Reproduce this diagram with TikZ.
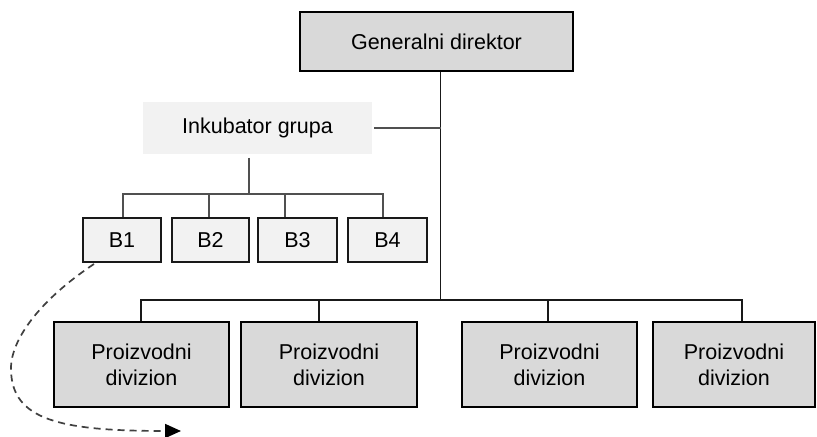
\documentclass[tikz,border=0pt]{standalone}
\usepackage{fontspec}
\setmainfont{Liberation Sans}
\usetikzlibrary{arrows.meta}
\definecolor{boxdark}{HTML}{D9D9D9}
\definecolor{boxlight}{HTML}{F2F2F2}
\definecolor{linegray}{HTML}{505050}
\begin{document}
\begin{tikzpicture}[x=1bp,y=-1bp,
  unit/.style={draw=black,line width=1.6bp,fill=boxdark,inner sep=0pt,
    font=\fontsize{21.5bp}{26bp}\selectfont,align=center},
  group/.style={fill=boxlight,inner sep=0pt,font=\fontsize{21.5bp}{26bp}\selectfont},
  bunit/.style={draw=black!90,line width=1.6bp,fill=boxlight,inner sep=0pt,
    minimum height=44bp,font=\fontsize{21.5bp}{26bp}\selectfont},
  division/.style={unit,minimum width=175bp,minimum height=85bp},
  link/.style={line width=1.6bp,draw=black!90},
  glink/.style={line width=1.6bp,draw=linegray}]
\useasboundingbox (0,0) rectangle (817,437);

% top of the hierarchy
\node[unit,minimum width=273bp,minimum height=59bp] (gd) at (436.5,41.5) {Generalni direktor};

% incubator group and its units
\node[group,minimum width=229bp,minimum height=52bp] (ink) at (257.5,128) {Inkubator grupa};
\node[bunit,minimum width=78bp] (b1) at (122,240) {B1};
\node[bunit,minimum width=77bp] (b2) at (210.5,240) {B2};
\node[bunit,minimum width=79bp] (b3) at (297.5,240) {B3};
\node[bunit,minimum width=79bp] (b4) at (387.5,240) {B4};

% product divisions
\node[division] (d1) at (141.5,364.5) {Proizvodni\\divizion};
\node[division,minimum width=176bp] (d2) at (329,364.5) {Proizvodni\\divizion};
\node[division] (d3) at (549.5,364.5) {Proizvodni\\divizion};
\node[division,minimum width=162bp] (d4) at (734,364.5) {Proizvodni\\divizion};

% junction points of the tree
\coordinate (spine) at (440.5,71);
\coordinate (spinemid) at (440.5,128);
\coordinate (spinebot) at (440.5,300);
\coordinate (inkdrop) at (249,158);
\coordinate (bbar) at (249,194);

% director spine down to the division bar
\draw[link] (gd.south -| spine) -- (spinebot);
\draw[link] (d1.north -| 141,0) |- (spinebot) -| (d4.north -| 742,0);
\draw[link] (d2.north -| 319,0) -- (319,300);
\draw[link] (d3.north -| 548,0) -- (548,300);

% incubator attached to the spine
\draw[glink] ([xshift=2bp]ink.east) -- (spinemid);
\draw[glink] (inkdrop) -- (bbar);
\draw[glink] (b1.north -| 123,0) |- (bbar) -| (b4.north -| 383,0);
\draw[glink] (b2.north -| 209,0) -- (209,194);
\draw[glink] (b3.north -| 285,0) -- (285,194);

% spin-off path out of B1
\coordinate (spinoff) at (181,431);
\draw[line width=1.7bp,draw=black!75,dash pattern=on 7bp off 5bp,
  -{Triangle[length=16bp,width=14bp,color=black]}]
  (94,264) .. controls (40,300) and (10,340) .. (11,370)
  .. controls (12,420) and (60,431) .. (spinoff);
\end{tikzpicture}
\end{document}
